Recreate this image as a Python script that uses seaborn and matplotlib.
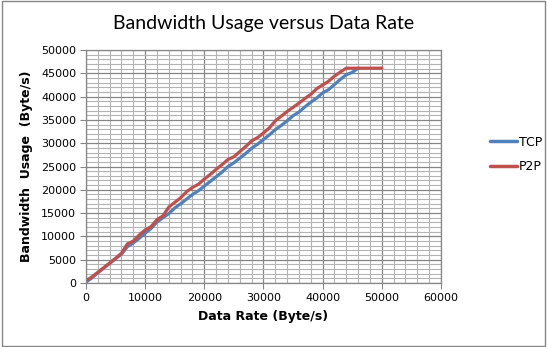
import pandas as pd
import matplotlib
matplotlib.use("Agg")
import matplotlib.pyplot as plt
from matplotlib.patches import Rectangle
from matplotlib.ticker import MultipleLocator
import seaborn as sns

# Data (Byte/s)
tcp_rate = [0, 1000, 2000, 3000, 4000, 5000, 6000, 7000, 8000, 9000,
            10000, 11000, 12000, 13000, 14000, 15000, 16000, 17000, 18000, 19000,
            20000, 21000, 22000, 23000, 24000, 25000, 26000, 27000, 28000, 29000,
            30000, 31000, 32000, 33000, 34000, 35000, 36000, 37000, 38000, 39000,
            40000, 41000, 42000, 43000, 44000, 45000, 46000]
tcp_usage = [200, 1100, 2200, 3200, 4200, 5200, 6200, 7800, 8600, 9600,
             10700, 11700, 13100, 14000, 14900, 16100, 17000, 18000, 19000, 19800,
             20800, 21800, 22800, 23800, 25000, 25800, 26800, 27800, 28900, 29800,
             30800, 31800, 32900, 33800, 34800, 35900, 36700, 37800, 38800, 39700,
             40800, 41500, 42600, 43700, 44700, 45200, 46100]

p2p_rate = [0, 1000, 2000, 3000, 4000, 5000, 6000, 7000, 8000, 9000,
            10000, 11000, 12000, 13000, 14000, 15000, 16000, 17000, 18000, 19000,
            20000, 21000, 22000, 23000, 24000, 25000, 26000, 27000, 28000, 29000,
            30000, 31000, 32000, 33000, 34000, 35000, 36000, 37000, 38000, 39000,
            40000, 41000, 42000, 43000, 44000, 45000, 46000, 47000, 48000, 49000,
            50000]
p2p_usage = [500, 1300, 2300, 3300, 4300, 5300, 6400, 8400, 9000, 10300,
             11400, 12100, 13600, 14400, 16300, 17300, 18300, 19600, 20500, 21200,
             22300, 23300, 24400, 25400, 26500, 27100, 28200, 29300, 30500, 31200,
             32200, 33300, 34800, 35800, 36800, 37700, 38600, 39600, 40500, 41700,
             42500, 43300, 44400, 45300, 46100, 46100, 46100, 46100, 46100, 46100,
             46100]

df = pd.concat([
    pd.DataFrame({'rate': tcp_rate, 'usage': tcp_usage, 'Protocol': 'TCP'}),
    pd.DataFrame({'rate': p2p_rate, 'usage': p2p_usage, 'Protocol': 'P2P'}),
])

sns.set_style("white")
plt.rcParams['font.family'] = ['DejaVu Sans']
plt.rcParams['text.color'] = 'black'
plt.rcParams['axes.labelcolor'] = 'black'

fig = plt.figure(figsize=(5.47, 3.47), dpi=100)
ax = fig.add_axes([0.1572, 0.1844, 0.6490, 0.6715])

major_c = '#868686'
minor_c = '#b4b4b4'

sns.lineplot(data=df, x='rate', y='usage', hue='Protocol',
             palette={'TCP': '#4F81BD', 'P2P': '#C0504D'},
             linewidth=2.3, ax=ax, legend=True)

ax.set_xlim(0, 60000)
ax.set_ylim(0, 50000)
ax.xaxis.set_major_locator(MultipleLocator(10000))
ax.xaxis.set_minor_locator(MultipleLocator(2000))
ax.yaxis.set_major_locator(MultipleLocator(5000))
ax.yaxis.set_minor_locator(MultipleLocator(1000))
ax.grid(which='minor', color=minor_c, linewidth=0.8)
ax.grid(which='major', color=major_c, linewidth=0.9)
ax.set_axisbelow(True)
for s in ax.spines.values():
    s.set_color(major_c)
    s.set_linewidth(0.9)

ax.tick_params(which='major', direction='out', length=4, color=major_c,
               labelcolor='black', labelsize=8, pad=3, left=True, bottom=True)
ax.tick_params(which='minor', length=0)

ax.set_title('Bandwidth Usage versus Data Rate', fontsize=14, family='Lato',
             color='black', pad=15)
ax.set_xlabel('Data Rate (Byte/s)', fontsize=9, fontweight='bold', labelpad=5)
ax.set_ylabel('Bandwidth  Usage  (Byte/s)', fontsize=9, fontweight='bold',
              labelpad=6)

leg = ax.legend(loc='center left', bbox_to_anchor=(0.875, 0.555),
                bbox_transform=fig.transFigure, frameon=False, fontsize=9,
                handlelength=2.2, handletextpad=0.1, labelspacing=0.9)
for line in leg.get_lines():
    line.set_linewidth(2.5)
for t in leg.get_texts():
    t.set_color('black')

fig.patches.append(Rectangle((0.004, 0.004), 0.992, 0.992, transform=fig.transFigure,
                             fill=False, edgecolor=major_c, linewidth=1))

fig.savefig('out.png', dpi=100)
